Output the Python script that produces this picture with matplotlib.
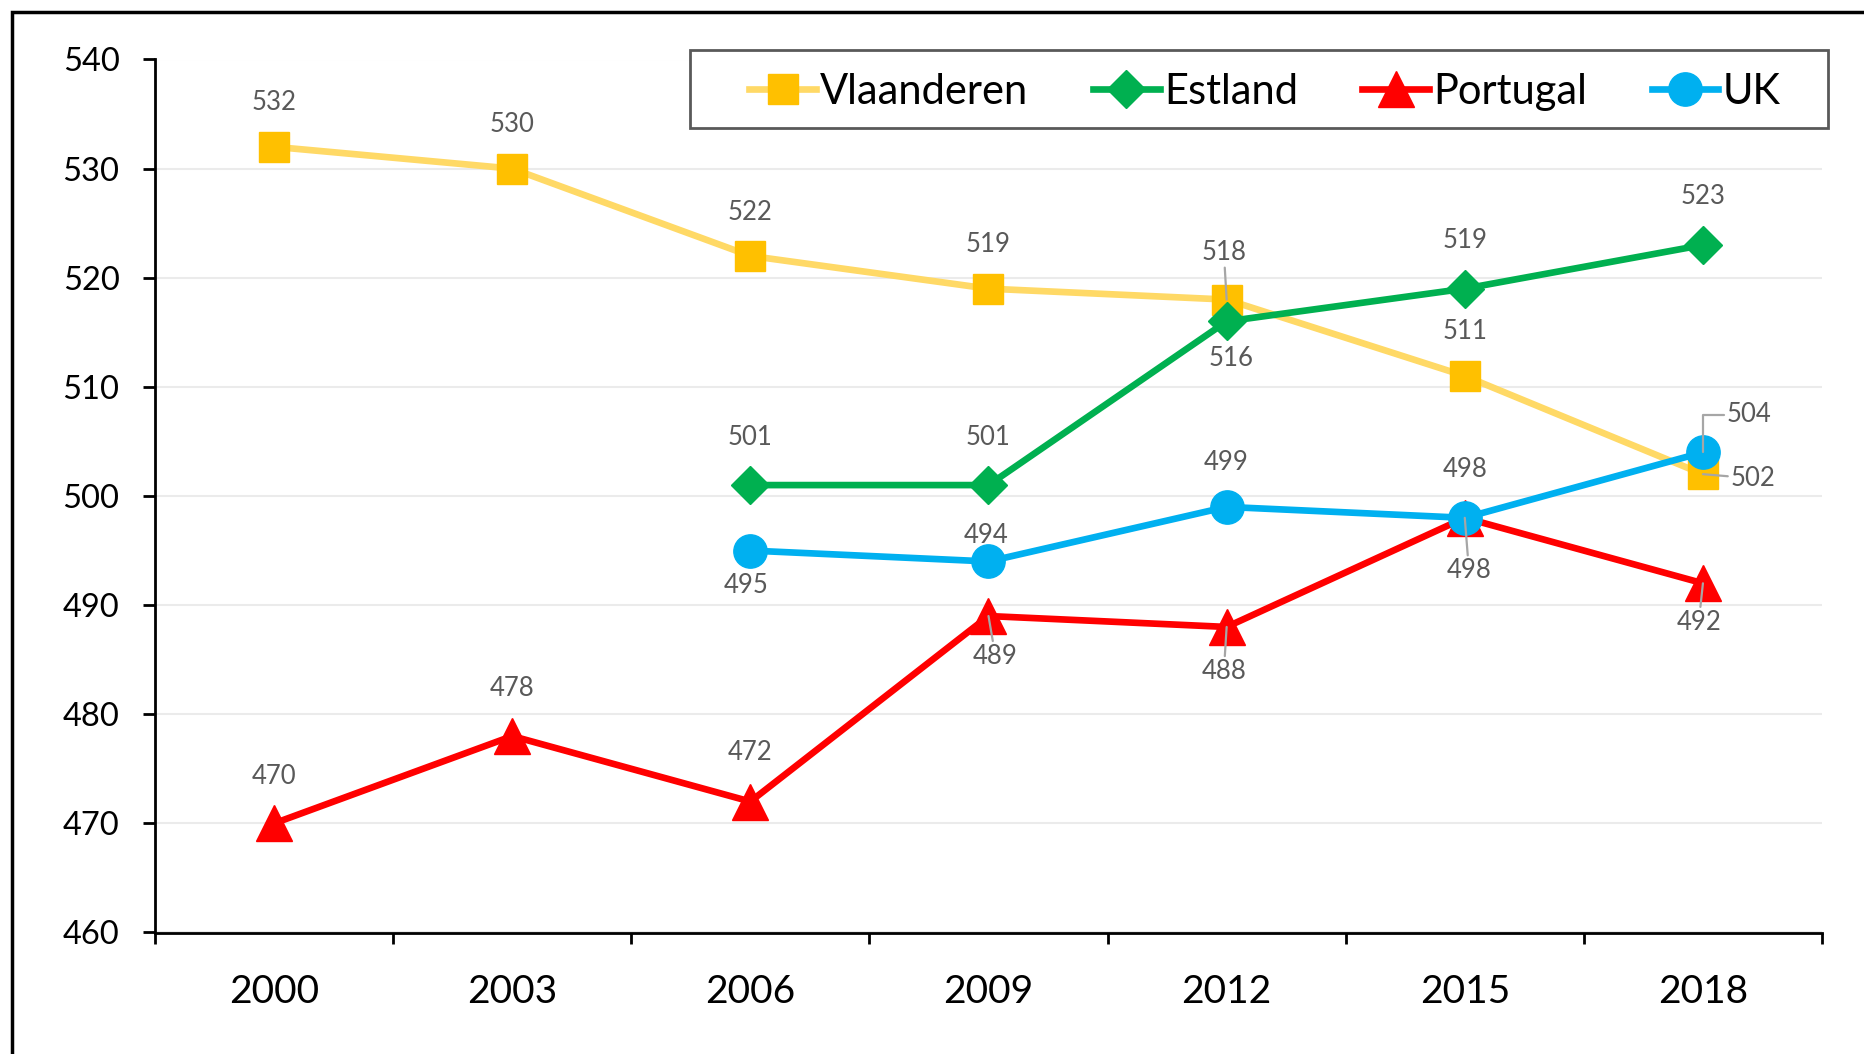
import numpy as np
import matplotlib.pyplot as plt
from matplotlib.patches import Rectangle

plt.rcParams['font.family'] = ['Lato', 'DejaVu Sans']

# data
years = ["2000", "2003", "2006", "2009", "2012", "2015", "2018"]
vlaanderen = [532, 530, 522, 519, 518, 511, 502]
estland = [np.nan, np.nan, 501, 501, 516, 519, 523]
portugal = [470, 478, 472, 489, 488, 498, 492]
uk = [np.nan, np.nan, 495, 494, 499, 498, 504]

# style per series: name, values, line colour, marker colour, marker, size
series = [
    ("Vlaanderen", vlaanderen, "#FFD966", "#FFC000", "s", 21),
    ("Estland", estland, "#00B050", "#00B050", "D", 19),
    ("Portugal", portugal, "#FF0000", "#FF0000", "^", 26),
    ("UK", uk, "#00B0F0", "#00B0F0", "o", 24),
]

# label offsets in points (dx, dy, leader)
offsets = {
    "Vlaanderen": [(0, 32, 0), (0, 32, 0), (0, 31, 0), (0, 32, 0), (-2, 34, 1), (0, 32, 0), (36, -3, 1)],
    "Estland": [None, None, (0, 34, 0), (0, 34, 0), (3, -27, 0), (0, 35, 0), (0, 35, 0)],
    "Portugal": [(0, 34, 0), (0, 34, 0), (0, 35, 0), (5, -29, 1), (-2, -32, 1), (3, -38, 1), (-3, -28, 1)],
    "UK": [None, None, (-3, -25, 0), (-2, 19, 0), (0, 32, 0), (0, 35, 0), (33, 27, 2)],
}

W, H = 1865, 1054
fig = plt.figure(figsize=(W / 100, H / 100), dpi=100)
ax = fig.add_axes([155 / W, 1 - 932.5 / H, (1822 - 155) / W, (932.5 - 59.5) / H])

x = np.arange(len(years))
for name, vals, lc, mc, mk, ms in series:
    ax.plot(x, vals, color=lc, lw=4.8, marker=mk, markersize=ms,
            markerfacecolor=mc, markeredgecolor=mc, label=name, zorder=3)

# data labels
for name, vals, lc, mc, mk, ms in series:
    for i, v in enumerate(vals):
        off = offsets[name][i]
        if off is None or np.isnan(v):
            continue
        dx, dy, leader = off
        kw = {}
        if leader == 1:
            kw["arrowprops"] = dict(arrowstyle="-", color="#A6A6A6", lw=1.6,
                                    shrinkA=0, shrinkB=0)
        elif leader == 2:
            kw["arrowprops"] = dict(arrowstyle="-", color="#A6A6A6", lw=1.6,
                                    shrinkA=0, shrinkB=0, relpos=(0, 0.5),
                                    connectionstyle="angle,angleA=0,angleB=90,rad=0")
        ax.annotate(f"{int(v)}", (i, v), xytext=(dx, dy), textcoords="offset points",
                    ha="center", va="center", fontsize=18.5, color="#595959",
                    zorder=5, **kw)

ax.set_xlim(-0.5, 6.5)
ax.set_ylim(460, 540)
ax.set_yticks(np.arange(460, 541, 10))
ax.set_xticks(x)
ax.set_xticklabels(years)
ax.set_xticks(np.arange(-0.5, 7, 1), minor=True)
ax.tick_params(axis="x", which="major", length=0, pad=30, labelsize=28)
ax.tick_params(axis="x", which="minor", length=8, width=2, direction="out")
ax.tick_params(axis="y", length=8.5, width=2, pad=17, labelsize=23.5)

ax.grid(axis="y", color="#EBEBEB", lw=1.5, zorder=0)
ax.set_axisbelow(True)
for s in ["top", "right"]:
    ax.spines[s].set_visible(False)
for s in ["left", "bottom"]:
    ax.spines[s].set_linewidth(2)
    ax.spines[s].set_color("black")

# legend box
lx0, lx1, ly0, ly1 = 690, 1828, 50, 128
fig.add_artist(Rectangle((lx0 / W, 1 - ly1 / H), (lx1 - lx0) / W, (ly1 - ly0) / H,
                         transform=fig.transFigure, facecolor="white",
                         edgecolor="#595959", lw=2, zorder=4))
handles, labels = ax.get_legend_handles_labels()
leg = fig.legend(handles, labels, loc="center", ncol=4, fontsize=30, frameon=False,
                 bbox_to_anchor=((lx0 + lx1 + 12) / 2 / W, 1 - ((ly0 + ly1) / 2 + 3) / H),
                 bbox_transform=fig.transFigure, borderaxespad=0, borderpad=0,
                 handlelength=1.6, handletextpad=0.1, columnspacing=1.55)
leg.set_zorder(6)

# outer chart border
fig.add_artist(Rectangle((12 / W, -0.2), 2, 1.2 - 12 / H, transform=fig.transFigure,
                         fill=False, edgecolor="black", lw=2.5))

fig.savefig("out.png", dpi=100)
